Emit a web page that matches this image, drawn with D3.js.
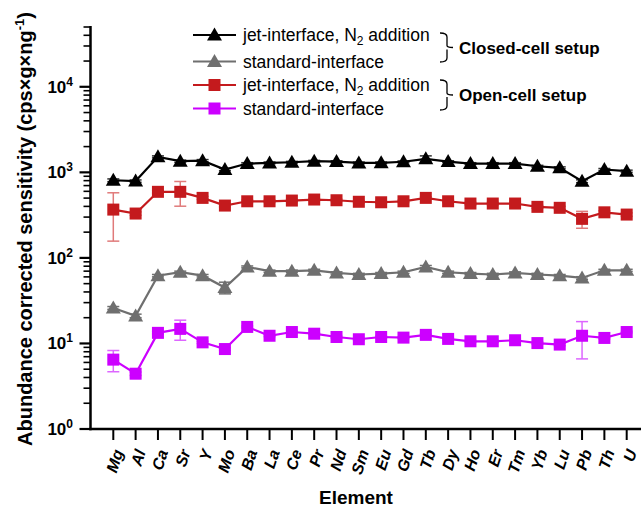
<!DOCTYPE html>
<html>
<head>
<meta charset="utf-8">
<script src="https://cdn.jsdelivr.net/npm/d3@7"></script>
<style>
  body { margin: 0; background: #fff; }
  text { font-family: "Liberation Sans", Arial, sans-serif; }
</style>
</head>
<body>
<svg width="643" height="515"></svg>
<script>
var elements = ["Mg","Al","Ca","Sr","Y","Mo","Ba","La","Ce","Pr","Nd","Sm","Eu","Gd","Tb","Dy","Ho","Er","Tm","Yb","Lu","Pb","Th","U"];

// closed-cell setup
var closedJet = [808, 790, 1518, 1350, 1370, 1080, 1267, 1290, 1313, 1349, 1335, 1290, 1291, 1330, 1438, 1337, 1267, 1267, 1267, 1178, 1129, 787, 1079, 1031];
var closedJetSd = [30, 25, 40, 40, 40, 35, 30, 30, 30, 30, 30, 30, 30, 30, 120, 30, 30, 30, 30, 30, 30, 30, 30, 30];
var closedStd = [26, 21, 62, 68, 62, 45, 78.5, 70, 70, 71.6, 66.7, 64, 65.5, 68, 78.5, 68, 65.5, 64, 66.7, 64, 62, 58.3, 71.6, 71.6];
var closedStdSd = [1, 1, 2, 2, 2, 7, 2, 2, 2, 2, 2, 2, 2, 2, 3, 2, 2, 2, 2, 2, 2, 2, 2, 2];

// open-cell setup
var openJet = [367, 330, 592, 592, 503, 409, 459, 459, 468, 481, 472, 453, 447, 459, 503, 459, 432, 432, 432, 395, 385, 286, 341, 321];
var openJetSd = [210, 15, 20, 190, 20, 15, 15, 15, 15, 15, 15, 15, 15, 15, 15, 15, 15, 15, 15, 15, 15, 64, 15, 15];
var openStd = [6.47, 4.43, 13.3, 14.8, 10.3, 8.6, 15.6, 12.3, 13.6, 13.0, 11.9, 11.2, 11.9, 11.7, 12.6, 11.3, 10.6, 10.6, 10.9, 10.1, 9.7, 12.3, 11.6, 13.6];
var openStdSd = [1.8, 0.2, 0.4, 3.9, 0.3, 0.3, 0.4, 0.3, 0.3, 0.3, 0.3, 0.3, 0.3, 0.3, 0.3, 0.3, 0.3, 0.3, 0.3, 0.3, 0.3, 5.7, 0.3, 0.3];

var yTicks = [1, 10, 100, 1000, 10000];
var yTickLabels = ["0", "1", "2", "3", "4"];

var series = [
  {label: "jet-interface", sub: true, values: closedJet, sd: closedJetSd, color: "#000000", err: "#333333", shape: "tri"},
  {label: "standard-interface", sub: false, values: closedStd, sd: closedStdSd, color: "#6f6f6f", err: "#6f6f6f", shape: "tri"},
  {label: "jet-interface", sub: true, values: openJet, sd: openJetSd, color: "#c41a1d", err: "#e07a7a", shape: "sq"},
  {label: "standard-interface", sub: false, values: openStd, sd: openStdSd, color: "#cc00ff", err: "#dd66ff", shape: "sq"}
];

var svg = d3.select("svg");

var x = d3.scalePoint().domain(elements).range([113.3, 626.7]);
var y = d3.scaleLog().domain([1, 5e4]).range([429, 27]);

var axisX0 = 90.5, axisX1 = 641, axisY = 429;

// minor ticks
var minor = [];
for (var e = 0; e < 5; e++) {
  for (var k = 2; k <= 9; k++) {
    var v = k * Math.pow(10, e);
    if (v <= 5e4) minor.push(v);
  }
}

var g = svg.append("g");

g.selectAll("line.minor")
  .data(minor)
  .enter().append("line")
  .attr("x1", axisX0 - 7).attr("x2", axisX0)
  .attr("y1", function(d) { return y(d); })
  .attr("y2", function(d) { return y(d); })
  .style("stroke", "#000").style("stroke-width", 1.6);

g.selectAll("line.major")
  .data(yTicks)
  .enter().append("line")
  .attr("x1", axisX0 - 11).attr("x2", axisX0)
  .attr("y1", function(d) { return y(d); })
  .attr("y2", function(d) { return y(d); })
  .style("stroke", "#000").style("stroke-width", 2.2);

// y tick labels 10^n
var yl = g.selectAll("text.ylab")
  .data(yTicks)
  .enter().append("text")
  .attr("x", 73)
  .attr("y", function(d) { return y(d) + 6; })
  .attr("text-anchor", "end")
  .style("font-size", "17px")
  .style("font-weight", "bold");
yl.append("tspan").text("10");
yl.append("tspan")
  .attr("dy", -7)
  .style("font-size", "12px")
  .text(function(d, i) { return yTickLabels[i]; });

// axes lines
g.append("line")
  .attr("x1", axisX0).attr("x2", axisX0)
  .attr("y1", y(5e4) - 1).attr("y2", axisY + 1.2)
  .style("stroke", "#000").style("stroke-width", 2.5);
g.append("line")
  .attr("x1", axisX0 - 1.2).attr("x2", axisX1)
  .attr("y1", axisY).attr("y2", axisY)
  .style("stroke", "#000").style("stroke-width", 2.5);

// x ticks
g.selectAll("line.xt")
  .data(elements)
  .enter().append("line")
  .attr("x1", function(d) { return x(d); })
  .attr("x2", function(d) { return x(d); })
  .attr("y1", axisY).attr("y2", axisY + 11)
  .style("stroke", "#000").style("stroke-width", 2);

g.selectAll("text.xlab")
  .data(elements)
  .enter().append("text")
  .attr("transform", function(d) { return "translate(" + (x(d) + 5) + "," + 450 + ") rotate(-72)"; })
  .attr("text-anchor", "end")
  .attr("dy", "0.35em")
  .style("font-size", "16px")
  .style("font-weight", "bold")
  .style("font-style", "italic")
  .text(function(d) { return d; });

// axis titles
g.append("text")
  .attr("transform", "translate(32,229) rotate(-90)")
  .attr("text-anchor", "middle")
  .style("font-size", "20px")
  .style("font-weight", "bold")
  .text("Abundance corrected sensitivity (cps\u00d7g\u00d7ng")
  .append("tspan").attr("dy", -8).style("font-size", "13px").text("-1")
  .select(function() { return this.parentNode; })
  .append("tspan").attr("dy", 8).text(")");

g.append("text")
  .attr("x", 356).attr("y", 504)
  .attr("text-anchor", "middle")
  .style("font-size", "19px")
  .style("font-weight", "bold")
  .text("Element");

function marker(sel, shape, color) {
  if (shape == "tri") {
    sel.append("path").attr("d", "M0,-7.5L7.5,5.5L-7.5,5.5Z").attr("fill", color);
  } else {
    sel.append("rect").attr("x", -6).attr("y", -6).attr("width", 12).attr("height", 12).attr("fill", color);
  }
}

var line = d3.line()
  .x(function(d, i) { return x(elements[i]); })
  .y(function(d) { return y(d); });

series.forEach(function(s) {
  var sg = g.append("g");
  // error bars
  var eb = sg.selectAll("g.err")
    .data(s.values)
    .enter().append("g")
    .attr("transform", function(d, i) { return "translate(" + x(elements[i]) + ",0)"; });
  eb.append("line")
    .attr("y1", function(d, i) { return y(d + s.sd[i]); })
    .attr("y2", function(d, i) { return y(Math.max(d - s.sd[i], 0.5)); })
    .style("stroke", s.err).style("stroke-width", 1.5);
  eb.append("line")
    .attr("x1", -6).attr("x2", 6)
    .attr("y1", function(d, i) { return y(d + s.sd[i]); })
    .attr("y2", function(d, i) { return y(d + s.sd[i]); })
    .style("stroke", s.err).style("stroke-width", 1.5);
  eb.append("line")
    .attr("x1", -6).attr("x2", 6)
    .attr("y1", function(d, i) { return y(Math.max(d - s.sd[i], 0.5)); })
    .attr("y2", function(d, i) { return y(Math.max(d - s.sd[i], 0.5)); })
    .style("stroke", s.err).style("stroke-width", 1.5);

  sg.append("path")
    .datum(s.values)
    .attr("d", line)
    .attr("fill", "none")
    .style("stroke", s.color)
    .style("stroke-width", 2.2);

  var m = sg.selectAll("g.m")
    .data(s.values)
    .enter().append("g")
    .attr("transform", function(d, i) { return "translate(" + x(elements[i]) + "," + y(d) + ")"; });
  m.each(function() { marker(d3.select(this), s.shape, s.color); });
});

// legend
var legY = [35, 61.5, 85, 108.5];
series.forEach(function(s, i) {
  var lg = g.append("g").attr("transform", "translate(0," + legY[i] + ")");
  lg.append("line").attr("x1", 193).attr("x2", 236)
    .style("stroke", s.color).style("stroke-width", 2.2);
  marker(lg.append("g").attr("transform", "translate(214.5,0)"), s.shape, s.color);
  var t = lg.append("text").attr("x", 243).attr("y", 6)
    .style("font-size", "17.5px");
  t.append("tspan").text(s.label + (s.sub ? ", N" : ""));
  if (s.sub) {
    t.append("tspan").attr("dy", 4).style("font-size", "12px").text("2");
    t.append("tspan").attr("dy", -4).text(" addition");
  }
});

// braces
function brace(y0, y1) {
  var ym = (y0 + y1) / 2;
  return "M440," + y0 + "Q447," + y0 + " 447," + (y0 + 4) + "L447," + (ym - 2) + "Q447," + ym + " 453," + ym +
    "M447," + (ym + 2) + "L447," + (y1 - 4) + "Q447," + y1 + " 440," + y1;
}
g.append("path").attr("d", brace(33, 62)).attr("fill", "none")
  .style("stroke", "#000").style("stroke-width", 1.3);
g.append("path").attr("d", brace(80, 110)).attr("fill", "none")
  .style("stroke", "#000").style("stroke-width", 1.3);

g.append("text").attr("x", 459).attr("y", 54)
  .style("font-size", "17px").style("font-weight", "bold")
  .text("Closed-cell setup");
g.append("text").attr("x", 459).attr("y", 101)
  .style("font-size", "17px").style("font-weight", "bold")
  .text("Open-cell setup");
</script>
</body>
</html>
